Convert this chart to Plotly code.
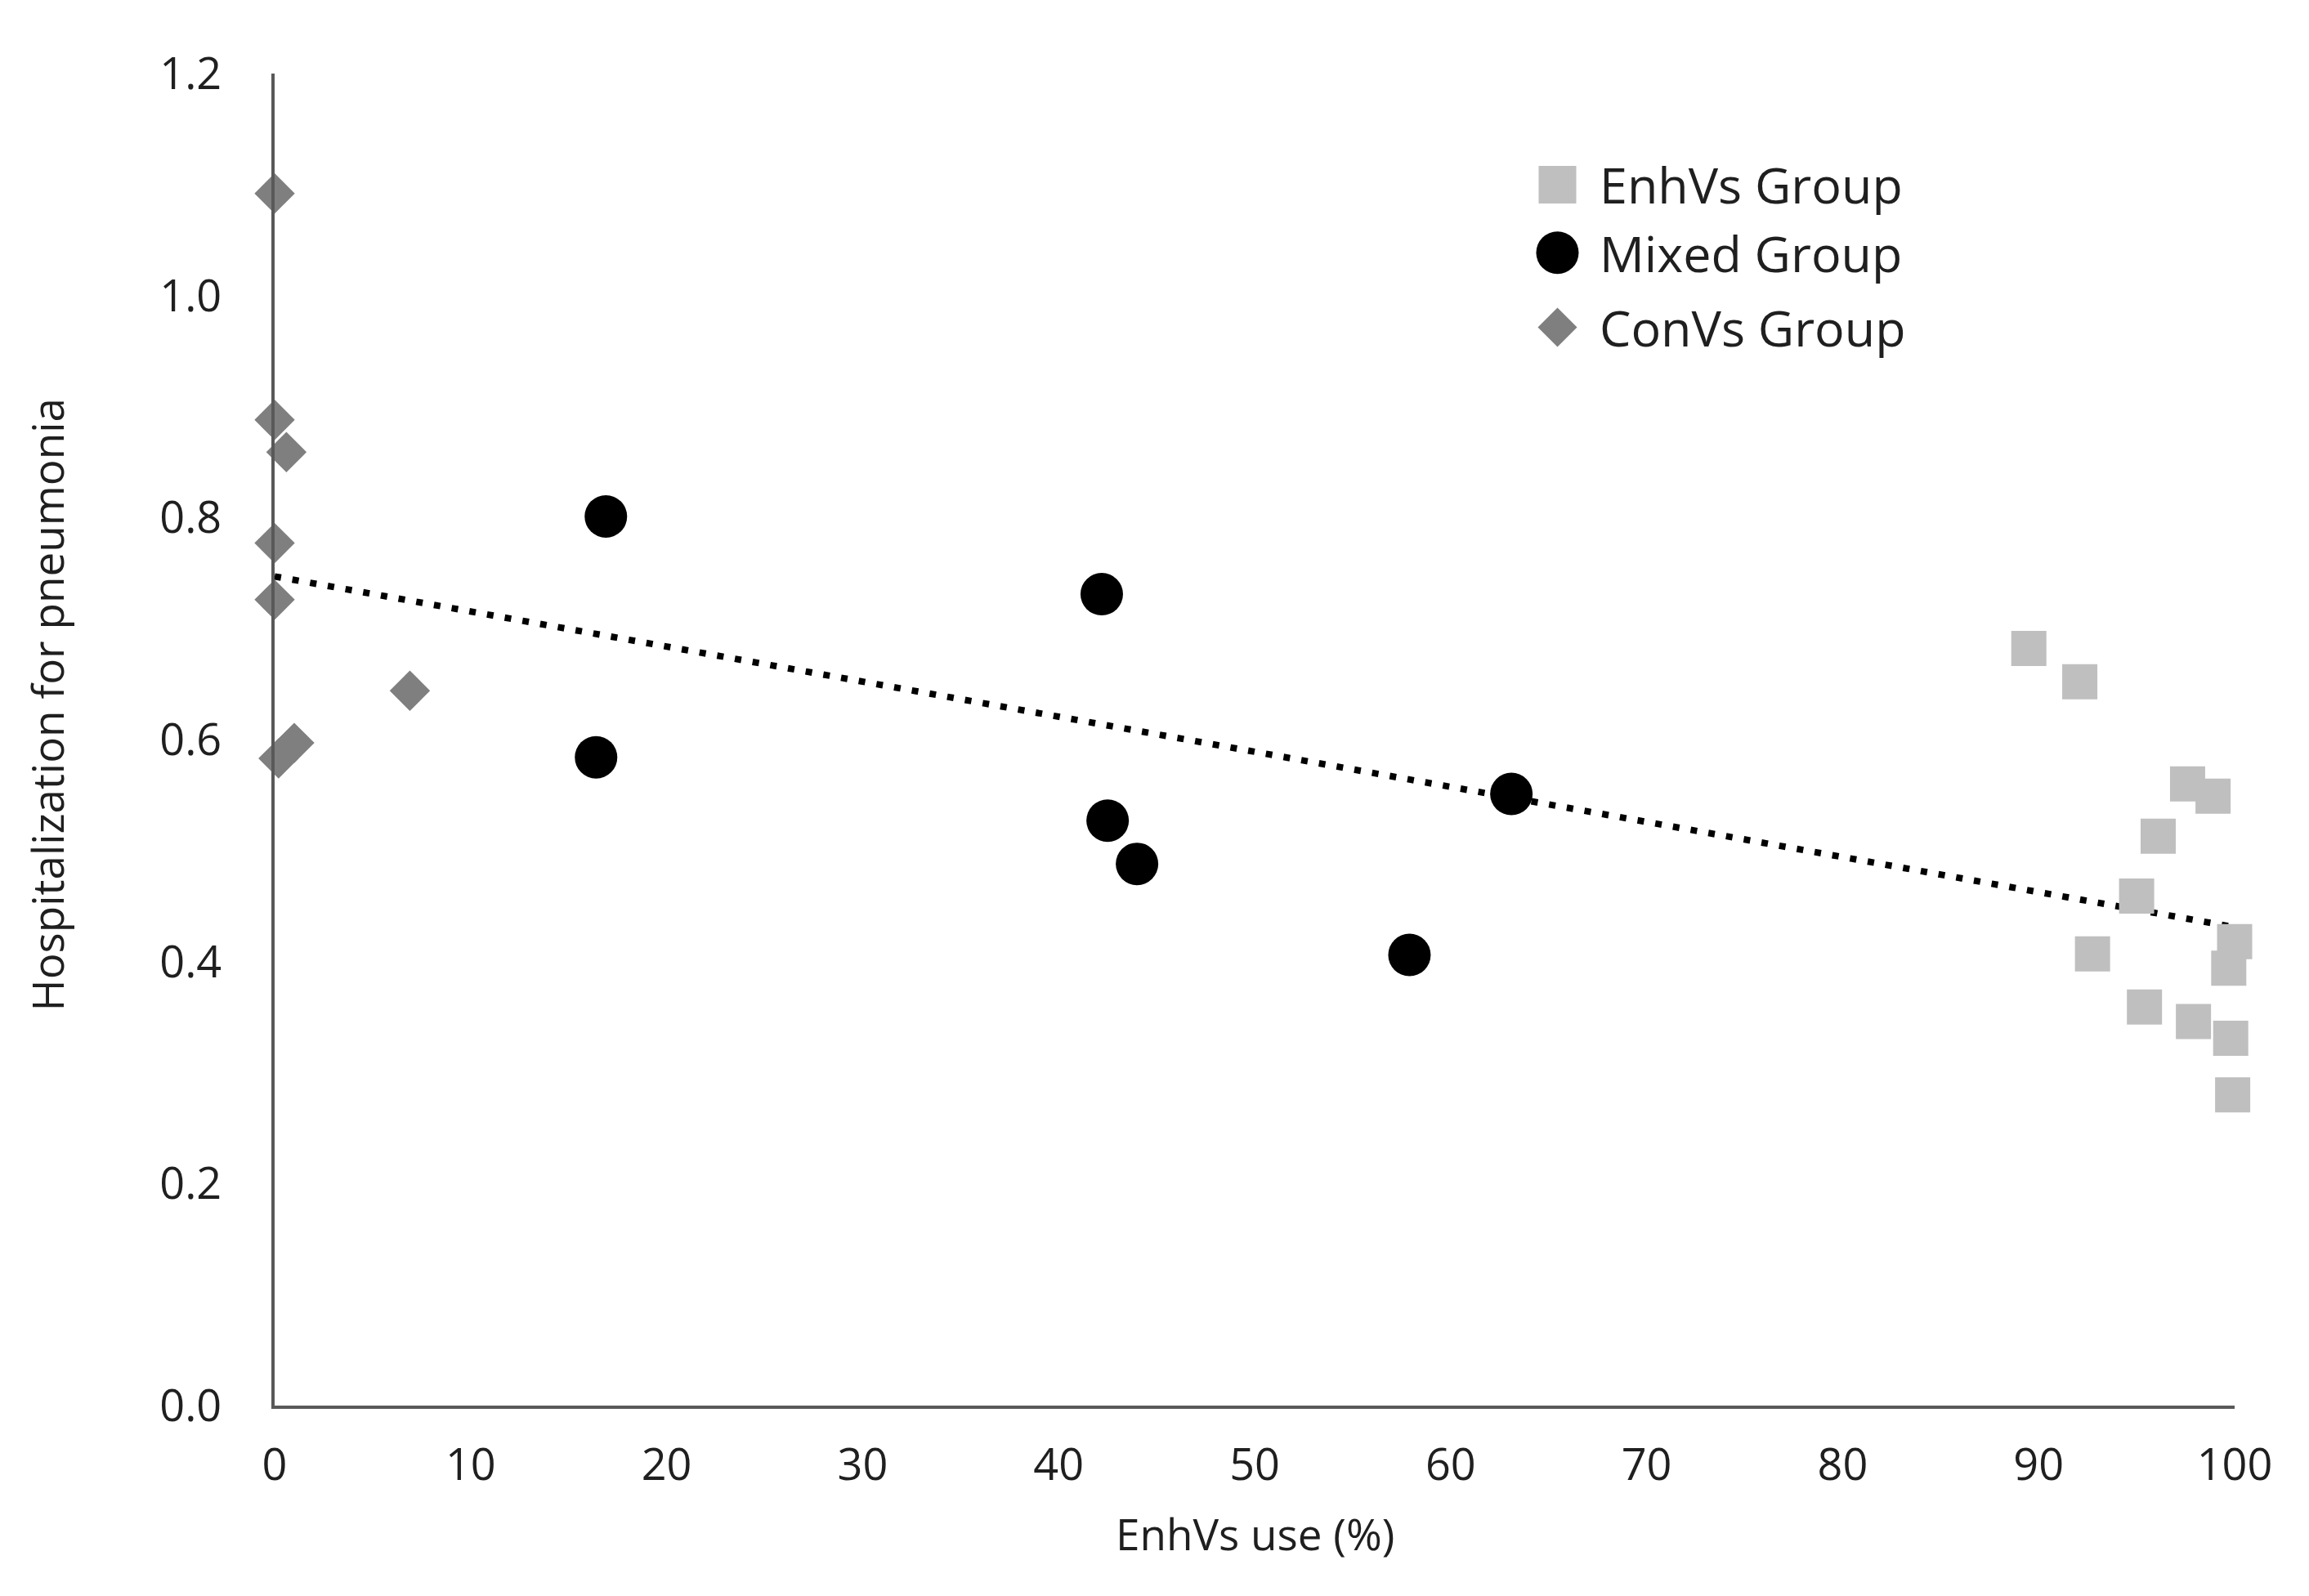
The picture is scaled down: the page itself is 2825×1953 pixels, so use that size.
import plotly.graph_objects as go

# ---- data ----
enh_x = [89.5, 92.1, 97.6, 98.9, 96.1, 95.0, 92.75, 100.0, 99.7, 95.4, 97.9, 99.8, 99.9]
enh_y = [0.682, 0.652, 0.560, 0.549, 0.513, 0.459, 0.407, 0.418, 0.394, 0.359, 0.346, 0.331, 0.280]

mix_x = [16.9, 42.2, 16.4, 42.5, 44.0, 63.1, 57.9]
mix_y = [0.801, 0.731, 0.584, 0.527, 0.488, 0.551, 0.406]

con_x = [0.0, 0.0, 0.6, 0.0, 0.0, 6.9, 1.0, 0.2]
con_y = [1.092, 0.888, 0.859, 0.777, 0.726, 0.644, 0.597, 0.583]

trend_x = [0.0, 100.0]
trend_y = [0.747, 0.431]

x_ticks = [0, 10, 20, 30, 40, 50, 60, 70, 80, 90, 100]
y_ticks = [0.0, 0.2, 0.4, 0.6, 0.8, 1.0, 1.2]

legend_names = ["EnhVs Group", "Mixed Group", "ConVs Group"]

C_ENH = "#bfbfbf"
C_MIX = "#000000"
C_CON = "#7f7f7f"
TXT = "#1f1f1f"
FONT = "Open Sans"

fig = go.Figure()

fig.add_trace(go.Scatter(
    x=trend_x, y=trend_y, mode="lines",
    line=dict(color="black", width=8, dash="8px,14px"),
    showlegend=False, hoverinfo="skip", cliponaxis=False))

fig.add_trace(go.Scatter(
    x=con_x, y=con_y, mode="markers", name=legend_names[2],
    marker=dict(symbol="diamond", size=38, color=C_CON, line=dict(width=0)),
    showlegend=False, cliponaxis=False))
fig.add_trace(go.Scatter(
    x=mix_x, y=mix_y, mode="markers", name=legend_names[1],
    marker=dict(symbol="circle", size=52, color=C_MIX, line=dict(width=0)),
    showlegend=False, cliponaxis=False))
fig.add_trace(go.Scatter(
    x=enh_x, y=enh_y, mode="markers", name=legend_names[0],
    marker=dict(symbol="square", size=43, color=C_ENH, line=dict(width=0)),
    showlegend=False, cliponaxis=False))

# ---- manual legend (large symbols) ----
lx = 0.6545
ly = [0.9166, 0.8655, 0.8095]
tx = 0.675
fig.add_shape(type="rect", xref="paper", yref="paper", xsizemode="pixel", ysizemode="pixel",
              xanchor=lx, yanchor=ly[0], x0=-23, x1=23, y0=-23, y1=23,
              fillcolor=C_ENH, line=dict(width=0))
fig.add_shape(type="circle", xref="paper", yref="paper", xsizemode="pixel", ysizemode="pixel",
              xanchor=lx, yanchor=ly[1], x0=-26, x1=26, y0=-26, y1=26,
              fillcolor=C_MIX, line=dict(width=0))
fig.add_shape(type="path", xref="paper", yref="paper", xsizemode="pixel", ysizemode="pixel",
              xanchor=lx, yanchor=ly[2], path="M 0,24 L 24,0 L 0,-24 L -24,0 Z",
              fillcolor=C_CON, line=dict(width=0))
for name, yy in zip(legend_names, ly):
    fig.add_annotation(x=tx, y=yy, xref="paper", yref="paper", text=name,
                       showarrow=False, xanchor="left", yanchor="middle",
                       font=dict(family=FONT, size=61, color=TXT))

# ---- axis titles ----
fig.add_annotation(x=0.5, y=-0.096, xref="paper", yref="paper", text="EnhVs use (%)",
                   showarrow=False, xanchor="center", yanchor="middle",
                   font=dict(family=FONT, size=53, color=TXT))
fig.add_annotation(x=-0.116, y=0.526, xref="paper", yref="paper",
                   text="Hospitalization for pneumonia", textangle=-90,
                   showarrow=False, xanchor="center", yanchor="middle",
                   font=dict(family=FONT, size=53, color=TXT))

fig.update_xaxes(range=[0, 100], tickvals=x_ticks, ticktext=[str(v) for v in x_ticks],
                 showgrid=False, zeroline=False, showline=True, linecolor="#595959", linewidth=4,
                 ticks="", ticklabelstandoff=22,
                 tickfont=dict(family=FONT, size=54, color=TXT))
fig.update_yaxes(range=[0, 1.2], tickvals=y_ticks, ticktext=[f"{v:.1f}" for v in y_ticks],
                 showgrid=False, zeroline=False, showline=True, linecolor="#595959", linewidth=4,
                 ticks="", ticklabelstandoff=50,
                 tickfont=dict(family=FONT, size=54, color=TXT))

fig.update_layout(width=2825, height=1953,
                  margin=dict(l=328, r=99, t=82, b=241),
                  paper_bgcolor="white", plot_bgcolor="white",
                  showlegend=False)

fig.write_html("out.html")
